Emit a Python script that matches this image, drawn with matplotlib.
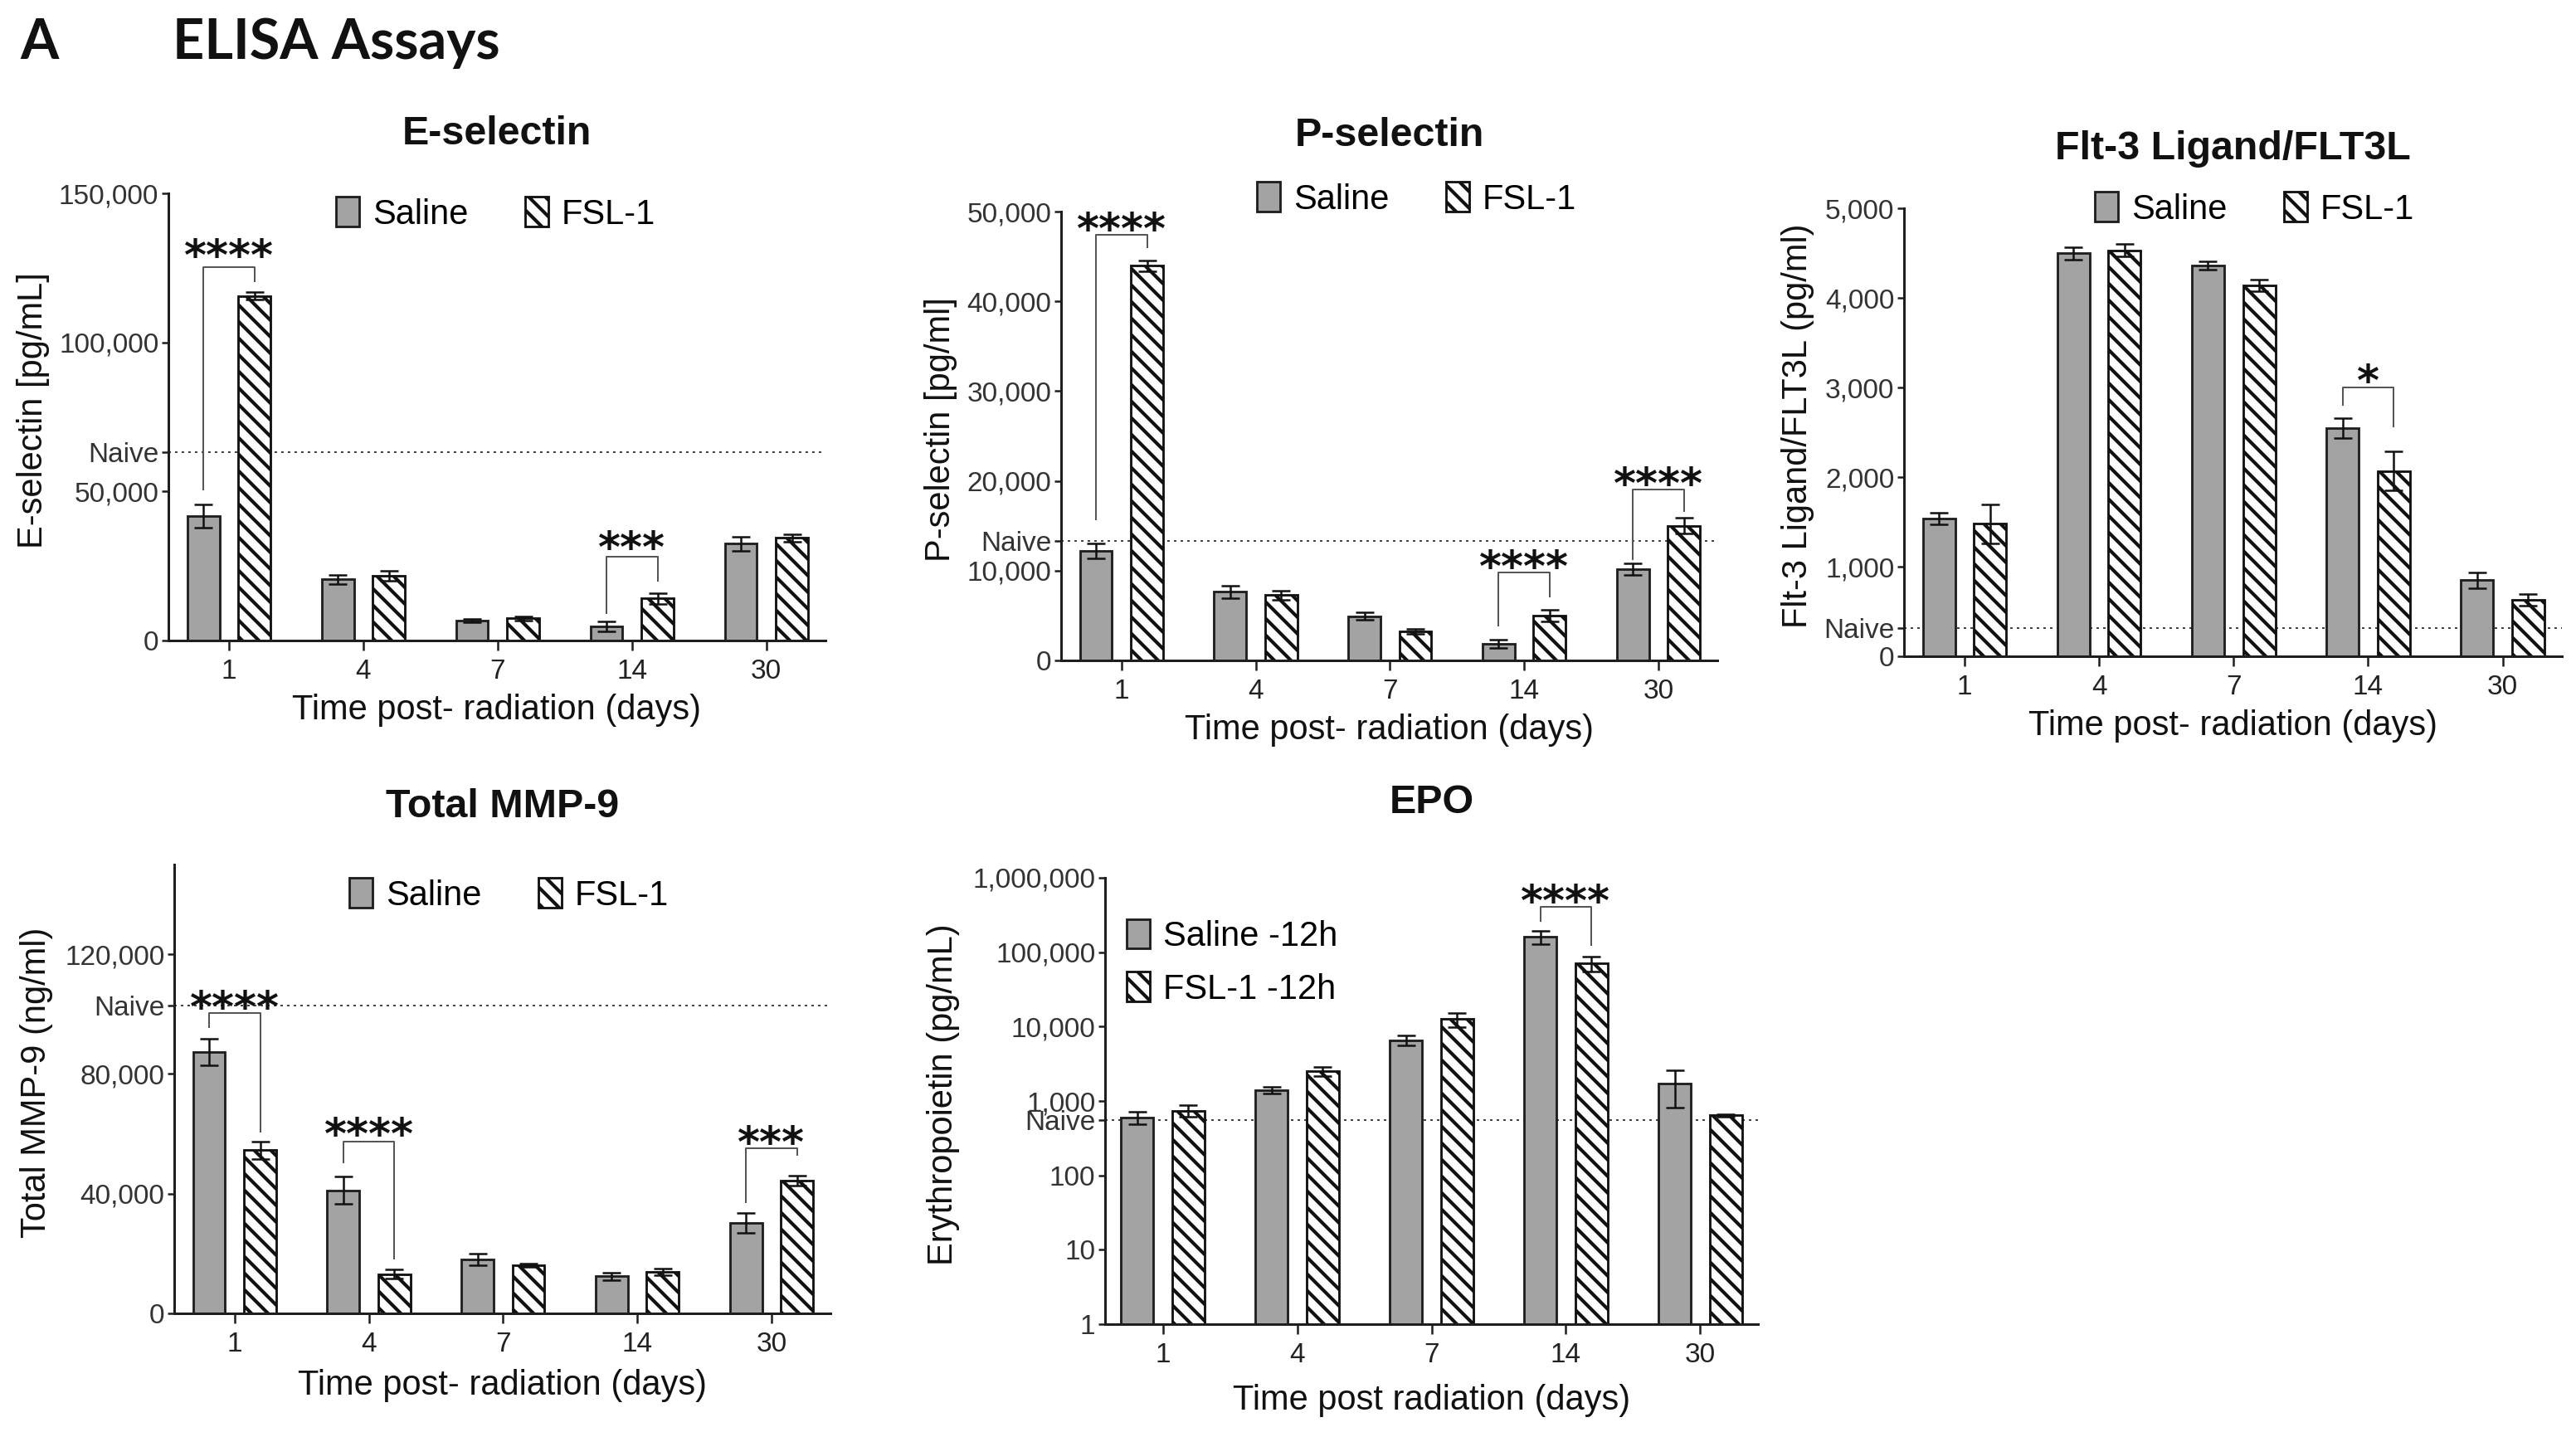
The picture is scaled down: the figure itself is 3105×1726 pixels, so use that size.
import numpy as np
import matplotlib
matplotlib.use('Agg')
import matplotlib.pyplot as plt
import matplotlib.transforms as mtransforms
from matplotlib.ticker import FixedLocator, NullLocator

plt.rcParams['font.family'] = ['Liberation Sans', 'DejaVu Sans']
plt.rcParams['hatch.linewidth'] = 2.5

# data
days = ['1', '4', '7', '14', '30']

# E-selectin (pg/mL)
e_sal = [41700, 20500, 6600, 4800, 32500]
e_sal_err = [3900, 1600, 600, 1600, 2400]
e_fsl = [115600, 21600, 7400, 14100, 34400]
e_fsl_err = [1300, 1700, 800, 1900, 1300]
e_naive = 63200
# (group, stars, bracket top, left leg end, right leg end, stars centre)
e_sig = [(0, '****', 125200, 50600, 120400, 133600),
         (3, '***', 28000, 9300, 20000, 35700)]

# P-selectin (pg/ml)
p_sal = [12200, 7650, 4940, 1840, 10160]
p_sal_err = [800, 700, 400, 480, 680]
p_fsl = [43950, 7260, 3240, 4990, 15000]
p_fsl_err = [600, 500, 250, 680, 880]
p_naive = 13310
p_sig = [(0, '****', 47430, 15730, 45980, 49600),
         (3, '****', 9830, 3870, 7110, 11960),
         (4, '****', 19020, 11230, 16600, 21150)]

# Flt-3 ligand (pg/ml)
f_sal = [1536, 4496, 4360, 2544, 848]
f_sal_err = [63, 68, 49, 111, 87]
f_fsl = [1478, 4530, 4138, 2069, 630]
f_fsl_err = [218, 68, 63, 218, 63]
f_naive = 315
f_sig = [(3, '*', 3004, 2810, 2568, 3222)]

# Total MMP-9 (ng/ml)
m_sal = [87280, 41130, 17990, 12380, 30220]
m_sal_err = [4420, 4570, 1920, 1180, 3240]
m_fsl = [54550, 13120, 16070, 13860, 44380]
m_fsl_err = [2950, 1470, 440, 1180, 1770]
m_naive = 102760
m_sig = [(0, '****', 100250, 95680, 60740, 106890),
         (1, '****', 57500, 50420, 18430, 64430),
         (4, '***', 55290, 37150, 53070, 61770)]

# EPO (pg/mL), log axis
epo_sal = [605, 1410, 6600, 162000, 1700]
epo_sal_err = [115, 140, 950, 33000, 880]
epo_fsl = [740, 2500, 12600, 71000, 640]
epo_fsl_err = [130, 350, 2800, 16000, 30]
epo_naive = 550
epo_sig = [(3, '****', 407000, 262000, 124000, 740000)]

W, H = 3105, 1726
fig = plt.figure(figsize=(W / 120, H / 120), dpi=120)


def rect(l, t, r, b):
    return [l / W, 1 - b / H, (r - l) / W, (b - t) / H]


def panel(box, title, title_y, ylabel, ylabel_x, xlabel, xlabel_y,
          sal, sal_err, fsl, fsl_err, naive, sig, yticks, ylim,
          legend_xy, labels=('Saline', 'FSL-1'), ncol=2, log=False,
          xlim=(-0.45, 4.44), naive_size=19, naive_shift=0):
    ax = fig.add_axes(rect(*box))
    x = np.arange(len(days))
    off, w = 0.19, 0.24
    if log:
        ax.set_yscale('log')
    b1 = ax.bar(x - off, sal, w, color='#a3a3a3', edgecolor='#1e1e1e',
                linewidth=1.7, label=labels[0], zorder=2)
    b2 = ax.bar(x + off, fsl, w, color='white', edgecolor='#111111',
                hatch='\\\\', linewidth=1.7, label=labels[1], zorder=2)
    ax.errorbar(x - off, sal, yerr=sal_err, fmt='none', ecolor='#111111',
                elinewidth=1.5, capsize=6.5, capthick=1.5, zorder=3)
    ax.errorbar(x + off, fsl, yerr=fsl_err, fmt='none', ecolor='#111111',
                elinewidth=1.5, capsize=6.5, capthick=1.5, zorder=3)
    ax.axhline(naive, color='#444444', lw=1.2, ls=(0, (1.5, 2.5)), zorder=1)

    for g, stars, top, lb, rb, sy in sig:
        ax.plot([g - off, g - off, g + off, g + off], [lb, top, top, rb],
                color='#555555', lw=1.2, zorder=4)
        ax.annotate(stars, xy=(g, sy), xytext=(0, -20), textcoords='offset points',
                    ha='center', va='baseline', fontsize=31,
                    family='DejaVu Sans', weight='bold', color='#111111')

    ax.set_xlim(*xlim)
    ax.set_ylim(*ylim)
    ax.set_xticks(x)
    ax.set_xticklabels(days)
    ticks = list(yticks) + [naive]
    ax.yaxis.set_major_locator(FixedLocator(ticks))
    ax.yaxis.set_minor_locator(NullLocator())
    ax.set_yticklabels([f'{t:,}' for t in yticks] + ['Naive'])
    nlab = ax.get_yticklabels()[-1]
    nlab.set_fontsize(naive_size)
    if naive_shift:
        nlab.set_transform(nlab.get_transform() + mtransforms.ScaledTranslation(
            0, naive_shift / 72, fig.dpi_scale_trans))

    for s in ['top', 'right']:
        ax.spines[s].set_visible(False)
    for s in ['left', 'bottom']:
        ax.spines[s].set_linewidth(1.8)
        ax.spines[s].set_color('#1e1e1e')
        ax.spines[s].set_zorder(5)
    ax.tick_params(axis='x', length=7, width=1.5, pad=6, labelsize=20,
                   color='#1e1e1e', labelcolor='#222222')
    ax.tick_params(axis='y', length=5, width=1.5, pad=2, labelsize=20,
                   color='#1e1e1e', labelcolor='#333333')

    ax.set_xlabel(xlabel, fontsize=25, color='#111111')
    ax.xaxis.set_label_coords((box[0] + box[2]) / 2 / W, 1 - xlabel_y / H,
                              transform=fig.transFigure)
    ax.xaxis.label.set_va('center')
    ax.set_ylabel(ylabel, fontsize=25, color='#111111')
    ax.yaxis.set_label_coords(ylabel_x / W, 1 - ((box[1] + box[3]) / 2 - 8) / H,
                              transform=fig.transFigure)
    ax.yaxis.label.set_va('center')

    fig.text((box[0] + box[2]) / 2 / W, 1 - title_y / H, title, ha='center',
             va='center', fontsize=29, weight='bold', color='#111111')

    ax.legend(handles=[b1, b2], labels=list(labels), ncol=ncol, frameon=False,
              loc='center left', bbox_to_anchor=(legend_xy[0] / W, 1 - legend_xy[1] / H),
              bbox_transform=fig.transFigure, borderpad=0, borderaxespad=0,
              handlelength=0.66, handleheight=0.93, handletextpad=0.39,
              columnspacing=1.66, labelspacing=0.55, fontsize=25)
    return ax


panel((203, 233, 995, 772), 'E-selectin', 162, 'E-selectin [pg/mL]', 40,
      'Time post- radiation (days)', 856, e_sal, e_sal_err, e_fsl, e_fsl_err,
      e_naive, e_sig, [0, 50000, 100000, 150000], (0, 150000), (405, 258))

panel((1279, 255, 2070, 796), 'P-selectin', 163, 'P-selectin [pg/ml]', 1134,
      'Time post- radiation (days)', 880, p_sal, p_sal_err, p_fsl, p_fsl_err,
      p_naive, p_sig, [0, 10000, 20000, 30000, 40000, 50000], (0, 50000), (1515, 240))

panel((2295, 251, 3088, 791), 'Flt-3 Ligand/FLT3L', 180, 'Flt-3 Ligand/FLT3L (pg/ml)', 2167,
      'Time post- radiation (days)', 875, f_sal, f_sal_err, f_fsl, f_fsl_err,
      f_naive, f_sig, [0, 1000, 2000, 3000, 4000, 5000], (0, 5000), (2525, 252))

panel((210, 1042, 1001, 1583), 'Total MMP-9', 973, 'Total MMP-9 (ng/ml)', 44,
      'Time post- radiation (days)', 1670, m_sal, m_sal_err, m_fsl, m_fsl_err,
      m_naive, m_sig, [0, 40000, 80000, 120000], (0, 150000), (421, 1079))

panel((1332, 1058, 2119, 1596), 'EPO', 968, 'Erythropoietin (pg/mL)', 1137,
      'Time post radiation (days)', 1688, epo_sal, epo_sal_err, epo_fsl, epo_fsl_err,
      epo_naive, epo_sig, [1, 10, 100, 1000, 10000, 100000, 1000000], (1, 1e6),
      (1358, 1160), labels=('Saline -12h', 'FSL-1 -12h'), ncol=1, log=True,
      xlim=(-0.43, 4.43), naive_size=16, naive_shift=-3)

fig.text(24 / W, 1 - 52 / H, 'A', ha='left', va='center', fontsize=40,
         weight='bold', family=['Lato', 'DejaVu Sans'], color='#111111')
fig.text(208 / W, 1 - 52 / H, 'ELISA Assays', ha='left', va='center', fontsize=40,
         weight='bold', family=['Lato', 'DejaVu Sans'], color='#111111')

fig.savefig('out.png', dpi=120, facecolor='white')
